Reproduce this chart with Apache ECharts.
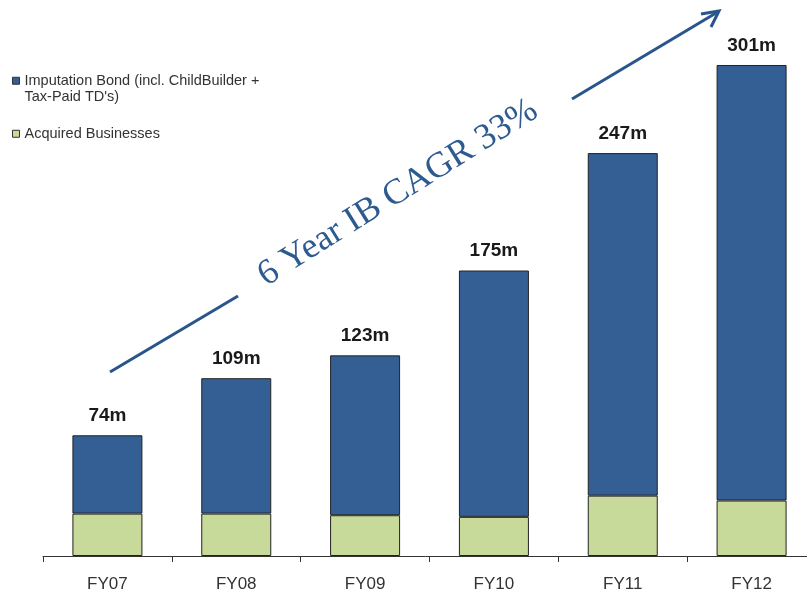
<!DOCTYPE html>
<html>
<head>
<meta charset="utf-8">
<script src="https://cdn.jsdelivr.net/npm/echarts@6/dist/echarts.min.js"></script>
<style>
html,body{margin:0;padding:0;background:#fff;}
#chart{width:807px;height:594px;}
</style>
</head>
<body>
<div id="chart"></div>
<script>
var categories = ['FY07', 'FY08', 'FY09', 'FY10', 'FY11', 'FY12'];
var acquired = [26, 26, 25, 24, 37, 34];
var imputation = [48, 83, 98, 151, 210, 267];
var totals = [74, 109, 123, 175, 247, 301];
var seriesNames = ["Imputation Bond (incl. ChildBuilder +\nTax-Paid TD's)", 'Acquired Businesses'];
var annotationText = '6 Year IB CAGR 33%';

var chart = echarts.init(document.getElementById('chart'));
var option = {
  backgroundColor: '#ffffff',
  animation: false,
  grid: { left: 43, width: 773, top: 34, bottom: 38, outerBoundsMode: 'none', containLabel: false },
  legend: {
    orient: 'vertical',
    left: 7,
    top: 51,
    itemWidth: 7,
    itemHeight: 7,
    itemGap: 20,
    icon: 'rect',
    data: [seriesNames[0], seriesNames[1]],
    formatter: function (name) { return name === seriesNames[0] ? '\n' + name : name; },
    textStyle: { fontFamily: 'Liberation Sans, Arial', fontSize: 14.5, color: '#333', lineHeight: 16.5 },
    itemStyle: { borderColor: '#333', borderWidth: 1 }
  },
  xAxis: {
    type: 'category',
    data: categories,
    axisLine: { lineStyle: { color: '#333', width: 1 } },
    axisTick: { show: true, length: 6, lineStyle: { color: '#333' } },
    axisLabel: { color: '#333', fontFamily: 'Liberation Sans, Arial', fontSize: 17, margin: 20 }
  },
  yAxis: {
    type: 'value', min: 0, max: 320, show: false,
    splitLine: { show: false }
  },
  series: [
    {
      name: seriesNames[1], type: 'bar', stack: 'total', barWidth: 70,
      data: acquired,
      itemStyle: { color: '#c8da9a', borderColor: '#222', borderWidth: 1 }
    },
    {
      name: seriesNames[0], type: 'bar', stack: 'total', barWidth: 70,
      data: imputation,
      itemStyle: { color: '#345f95', borderColor: '#222', borderWidth: 1 },
      label: {
        show: true, position: 'top', distance: 10,
        formatter: function (p) { return totals[p.dataIndex] + 'm'; },
        fontFamily: 'Liberation Sans, Arial', fontWeight: 'bold', fontSize: 19, color: '#1a1a1a'
      }
    }
  ],
  graphic: [
    { type: 'line', shape: { x1: 110, y1: 372, x2: 238, y2: 296 }, style: { stroke: '#27558c', lineWidth: 3 } },
    { type: 'line', shape: { x1: 572, y1: 99, x2: 716, y2: 13 }, style: { stroke: '#27558c', lineWidth: 3 } },
    { type: 'polyline', shape: { points: [[701, 14], [719, 11], [711, 27]] }, style: { stroke: '#27558c', lineWidth: 3, fill: null } },
    {
      type: 'text', x: 398, y: 193, rotation: 32 * Math.PI / 180,
      style: {
        text: annotationText, fontFamily: 'Liberation Serif, Times New Roman', fontSize: 36,
        fill: '#2d5a90', align: 'center', verticalAlign: 'middle'
      }
    }
  ]
};
chart.setOption(option);
</script>
</body>
</html>
